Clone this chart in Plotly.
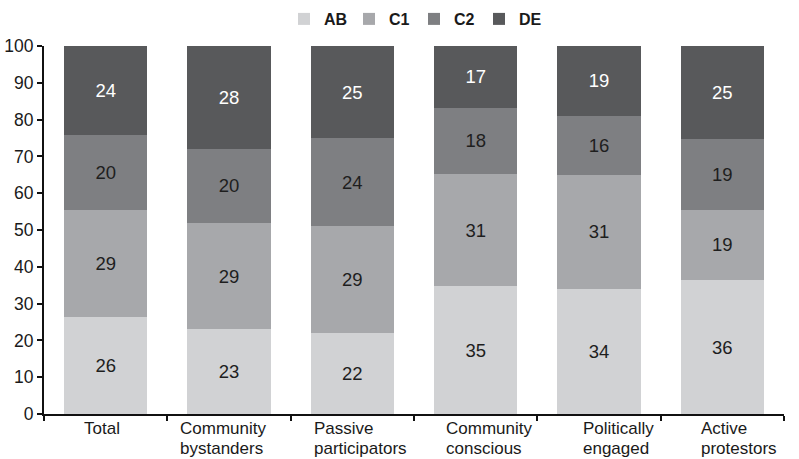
import plotly.graph_objects as go

categories = ["Total", "Community<br>bystanders", "Passive<br>participators",
              "Community<br>conscious", "Politically<br>engaged", "Active<br>protestors"]
ab = [26, 23, 22, 35, 34, 36]
c1 = [29, 29, 29, 31, 31, 19]
c2 = [20, 20, 24, 18, 16, 19]
de = [24, 28, 25, 17, 19, 25]

FONT = "Liberation Sans, Arial, Helvetica, sans-serif"
INK = "#1a1a1a"

series = [
    ("AB", ab, "#d1d2d4", "#1e1e1e"),
    ("C1", c1, "#a7a8ab", "#1e1e1e"),
    ("C2", c2, "#7e7f82", "#1e1e1e"),
    ("DE", de, "#58595b", "#ffffff"),
]

fig = go.Figure()
for name, vals, color, tcolor in series:
    fig.add_trace(go.Bar(
        name=name, x=categories, y=vals,
        marker=dict(color=color, line=dict(width=0)),
        text=[str(v) for v in vals], textposition="inside",
        insidetextanchor="middle", textangle=0,
        textfont=dict(family=FONT, size=18.5, color=tcolor),
        hoverinfo="skip",
    ))

# Category labels: left-aligned two-line blocks with tight leading
label_xshift = [-4, -51, -40, -32, -18, -23]
for cat, dx in zip(categories, label_xshift):
    lines = cat.split("<br>")
    anchor = "center" if len(lines) == 1 else "left"
    for i, line in enumerate(lines):
        fig.add_annotation(
            x=cat, xref="x", y=0, yref="paper",
            text=line, showarrow=False,
            xanchor=anchor, yanchor="top",
            xshift=dx, yshift=-3 - 20 * i,
            font=dict(family=FONT, size=17, color=INK),
        )

fig.update_layout(
    barmode="stack", barnorm="percent", bargap=0.325,
    width=799, height=459,
    margin=dict(l=44, r=15, t=46, b=45, autoexpand=False),
    plot_bgcolor="white", paper_bgcolor="white",
    font=dict(family=FONT, size=17, color=INK),
    uniformtext=dict(mode="show", minsize=10),
    legend=dict(orientation="h", x=0.5, xanchor="center",
                y=1 - 19 / 459, yanchor="middle", yref="container",
                font=dict(family=FONT, size=16, color=INK, weight="bold"),
                itemwidth=30, entrywidth=20, entrywidthmode="pixels",
                traceorder="normal", itemclick=False),
    showlegend=True,
)

fig.update_xaxes(
    showline=True, linecolor="#111111", linewidth=2,
    ticks="outside", tickson="boundaries", ticklen=5, tickwidth=2, tickcolor="#111111",
    showgrid=False, showticklabels=False,
)
fig.update_yaxes(
    range=[0, 100], dtick=10, showline=True, linecolor="#111111", linewidth=2,
    ticks="outside", ticklen=5, tickwidth=2, tickcolor="#111111",
    showgrid=False, zeroline=False, tickfont=dict(family=FONT, size=17.5, color=INK),
)

fig.write_html("out.html")
